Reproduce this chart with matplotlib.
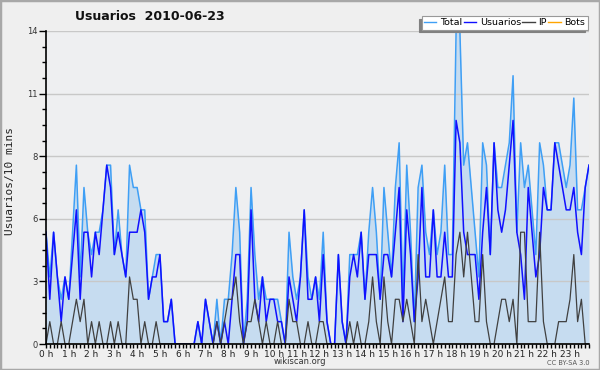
import matplotlib
matplotlib.use('Agg')
import matplotlib.pyplot as plt
import numpy as np
from matplotlib.ticker import FixedLocator, MultipleLocator
from matplotlib.lines import Line2D
from matplotlib.patches import Rectangle

title = "Usuarios  2010-06-23"
ylabel = "Usuarios/10 mins"
hour_labels = [f"{h} h" for h in range(24)]
ytick_values = [0, 2.8, 5.6, 8.4, 11.2, 14]
ytick_labels = ["0", "3", "6", "8", "11", "14"]
series_names = ["Total", "Usuarios", "IP", "Bots"]

total = [5, 3, 5, 3, 2, 3, 2, 5, 8, 3, 7, 5, 4, 5, 5, 6, 8, 8, 4, 6, 4, 3, 8, 7,
         7, 6, 6, 2, 3, 4, 4, 1, 1, 2, 0, 0, 0, 0, 0, 0, 1, 0, 2, 1, 0, 2, 0, 2,
         2, 4, 7, 5, 0, 2, 7, 4, 2, 3, 2, 2, 2, 2, 1, 0, 5, 3, 2, 3, 6, 3, 2, 3,
         2, 5, 1, 0, 0, 4, 1, 0, 4, 4, 4, 5, 2, 5, 7, 5, 2, 7, 5, 3, 7, 9, 2, 8,
         5, 1, 7, 8, 5, 4, 6, 4, 5, 8, 4, 4, 14, 14, 8, 9, 7, 5, 3, 9, 8, 4, 9, 7,
         7, 8, 9, 12, 5, 9, 7, 8, 6, 4, 9, 8, 6, 6, 9, 9, 8, 7, 8, 11, 6, 6, 7, 8]

usuarios = [5, 2, 5, 3, 1, 3, 2, 4, 6, 2, 5, 5, 3, 5, 4, 6, 8, 7, 4, 5, 4, 3, 5, 5,
            5, 6, 5, 2, 3, 3, 4, 1, 1, 2, 0, 0, 0, 0, 0, 0, 1, 0, 2, 1, 0, 1, 0, 1,
            0, 2, 4, 4, 0, 1, 6, 2, 1, 3, 1, 2, 2, 1, 1, 0, 3, 2, 1, 3, 6, 2, 2, 3,
            1, 4, 1, 0, 0, 4, 1, 0, 3, 4, 3, 5, 2, 4, 4, 4, 2, 4, 4, 3, 5, 7, 1, 6,
            4, 1, 3, 7, 3, 3, 6, 3, 3, 5, 3, 3, 10, 9, 5, 4, 4, 4, 2, 5, 7, 4, 9, 6,
            5, 6, 8, 10, 5, 4, 2, 7, 5, 3, 4, 7, 6, 6, 9, 8, 7, 6, 6, 7, 5, 4, 7, 8]

ip = [0, 1, 0, 0, 1, 0, 0, 1, 2, 1, 2, 0, 1, 0, 1, 0, 0, 1, 0, 1, 0, 0, 3, 2,
      2, 0, 1, 0, 0, 1, 0, 0, 0, 0, 0, 0, 0, 0, 0, 0, 0, 0, 0, 0, 0, 1, 0, 1,
      2, 2, 3, 1, 0, 1, 1, 2, 1, 0, 1, 0, 0, 1, 0, 0, 2, 1, 1, 0, 0, 1, 0, 0,
      1, 1, 0, 0, 0, 0, 0, 0, 1, 0, 1, 0, 0, 1, 3, 1, 0, 3, 1, 0, 2, 2, 1, 2,
      1, 0, 4, 1, 2, 1, 0, 1, 2, 3, 1, 1, 4, 5, 3, 5, 3, 1, 1, 4, 1, 0, 0, 1,
      2, 2, 1, 2, 0, 5, 5, 1, 1, 1, 5, 1, 0, 0, 0, 1, 1, 1, 2, 4, 1, 2, 0, 0]

bots = [0, 0, 0, 0, 0, 0, 0, 0, 0, 0, 0, 0, 0, 0, 0, 0, 0, 0, 0, 0, 0, 0, 0, 0,
        0, 0, 0, 0, 0, 0, 0, 0, 0, 0, 0, 0, 0, 0, 0, 0, 0, 0, 0, 0, 0, 0, 0, 0,
        0, 0, 0, 0, 0, 0, 0, 0, 0, 0, 0, 0, 0, 0, 0, 0, 0, 0, 0, 0, 0, 0, 0, 0,
        0, 0, 0, 0, 0, 0, 0, 0, 0, 0, 0, 0, 0, 0, 0, 0, 0, 0, 0, 0, 0, 0, 0, 0,
        0, 0, 0, 0, 0, 0, 0, 0, 0, 0, 0, 0, 0, 0, 0, 0, 0, 0, 0, 0, 0, 0, 0, 0,
        0, 0, 0, 0, 0, 0, 0, 0, 0, 0, 0, 0, 0, 0, 0, 0, 0, 0, 0, 0, 0, 0, 0, 0]

c_total = '#3f9ff5'
c_user = '#1010ff'
c_ip = '#404040'
c_bots = '#ffa500'
c_fill = '#c6dcf0'

W, H = 600, 370
fig = plt.figure(figsize=(6, 3.7), dpi=100, facecolor='#efefef')
ax = fig.add_axes([46 / W, 26 / H, 543 / W, 313 / H])
ax.set_facecolor('#eeeff1')

x = np.arange(len(total))
ax.fill_between(x, total, color=c_fill, lw=0, zorder=1)
ax.plot(x, bots, color=c_bots, lw=1, zorder=2)
ax.plot(x, total, color=c_total, lw=1.1, zorder=3)
ax.plot(x, usuarios, color=c_user, lw=1.1, zorder=4)
ax.plot(x, ip, color=c_ip, lw=0.9, zorder=5)

ax.set_xlim(0, len(total) - 1)
ax.set_ylim(0, 14)

ax.yaxis.set_major_locator(FixedLocator(ytick_values))
ax.set_yticklabels(ytick_labels)
ax.yaxis.set_minor_locator(MultipleLocator(0.7))
ax.xaxis.set_major_locator(FixedLocator(np.arange(0, len(total), 6)))
ax.set_xticklabels(hour_labels)
ax.xaxis.set_minor_locator(MultipleLocator(1))

ax.grid(axis='y', which='major', color='#c8c8c8', lw=1)
ax.set_axisbelow(False)
for s in ['top', 'right']:
    ax.spines[s].set_visible(False)
for s in ['left', 'bottom']:
    ax.spines[s].set_linewidth(1.2)
    ax.spines[s].set_color('black')
    ax.spines[s].set_zorder(6)

ax.tick_params(axis='y', which='major', length=5, width=1, labelsize=6, pad=1, colors='black', labelcolor='#333')
ax.tick_params(axis='y', which='minor', length=3, width=1)
ax.tick_params(axis='x', which='both', length=3, width=1, labelsize=6.5, pad=1, labelcolor='#222')

fig.text(150 / W, 1 - 17 / H, title, ha='center', va='center', fontsize=9, fontweight='bold', color='#111')
fig.text(10 / W, 1 - 181 / H, ylabel, ha='center', va='center', rotation=90,
         family='DejaVu Sans Mono', fontsize=8, color='#222')
fig.text(0.5, 1 - 362 / H, 'wikiscan.org', ha='center', va='center', fontsize=6, color='#333')
fig.text(590 / W, 1 - 363 / H, 'CC BY-SA 3.0', ha='right', va='center', fontsize=4.8, color='#555')

handles = [Line2D([], [], color=c, lw=1) for c in [c_total, c_user, c_ip, c_bots]]
leg = ax.legend(handles, series_names, loc='lower right', bbox_to_anchor=(1.0, 1.0), ncol=4,
                fontsize=6.8, frameon=True, fancybox=False, edgecolor='#999999',
                handlelength=1.3, handletextpad=0.4, columnspacing=0.15, borderpad=0.25,
                borderaxespad=0.15, framealpha=1,
                shadow={'ox': -2, 'oy': -2, 'color': '#808080', 'alpha': 1})
leg.set_zorder(10)
leg.get_frame().set_linewidth(0.8)

fig.patches.append(Rectangle((0, 0), 1, 1, transform=fig.transFigure, fill=False,
                             edgecolor='#a8a8a8', lw=2.5))

fig.savefig('out.png', dpi=100, facecolor=fig.get_facecolor())
